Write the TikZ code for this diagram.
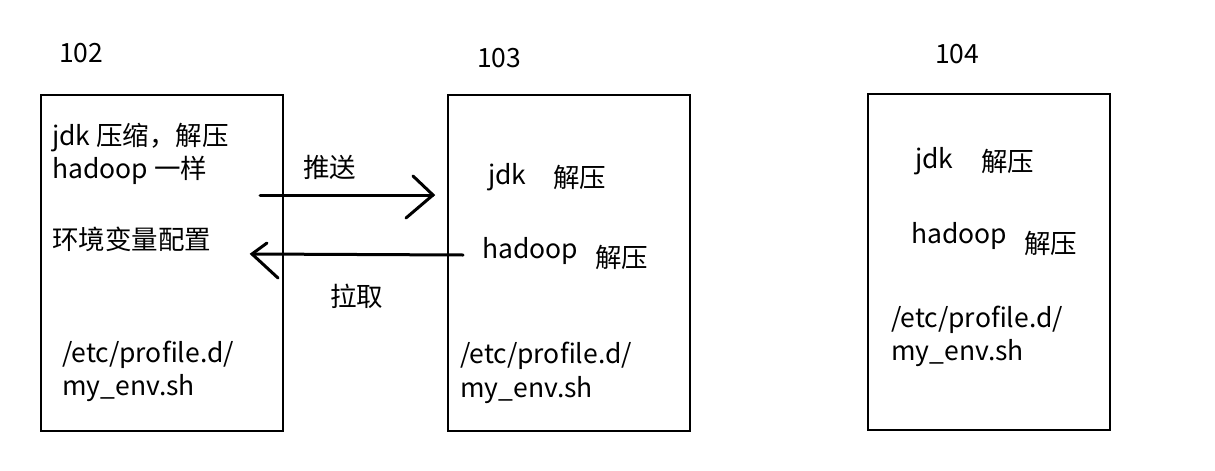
\documentclass[tikz,border=0pt]{standalone}
\usepackage{fontspec}
\setmainfont{Noto Sans CJK SC}
\begin{document}
\begin{tikzpicture}[x=1pt,y=-1pt,
  box/.style={draw=black,line width=1.3pt},
  txt/.style={anchor=base west,inner sep=0pt,font=\fontsize{26.5}{30}\selectfont},
  arr/.style={line width=3pt,line cap=round,line join=miter}]
\useasboundingbox (0,0) rectangle (1215,471);
% boxes
\draw[box] (41,95) rectangle (283,431) coordinate (b102);
\draw[box] (448,95) rectangle (690,431) coordinate (b103);
\draw[box] (868,94) rectangle (1110,430) coordinate (b104);
% titles
\node[txt] (t102) at (59,62) {102};
\node[txt] (t103) at (477,67) {103};
\node[txt] (t104) at (935,63) {104};
% box 102
\node[txt] (a1) at (52,145) {jdk 压缩，解压};
\node[txt] (a2) at (52,178) {hadoop 一样};
\node[txt] (a3) at (52,249) {环境变量配置};
\node[txt] (a4) at (62,362) {/etc/profile.d/};
\node[txt] (a5) at (62,395) {my\_env.sh};
% box 103
\node[txt] (b1) at (488,184) {jdk};
\node[txt] (b1c) at (553,187) {解压};
\node[txt] (b2) at (482,258) {hadoop};
\node[txt] (b2c) at (595,267) {解压};
\node[txt] (b3) at (460,363) {/etc/profile.d/};
\node[txt] (b4) at (460,397) {my\_env.sh};
% box 104
\node[txt] (c1) at (915,168) {jdk};
\node[txt] (c1c) at (981,171) {解压};
\node[txt] (c2) at (911,243) {hadoop};
\node[txt] (c2c) at (1024,253) {解压};
\node[txt] (c3) at (891,327) {/etc/profile.d/};
\node[txt] (c4) at (891,360) {my\_env.sh};
% arrows
\coordinate (ps) at (260,195);
\coordinate (pe) at (433,195);
\coordinate (ls) at (463,255);
\coordinate (le) at (252,254);
\draw[arr] (ps) -- (pe);
\draw[arr] (pe) ++(-20,-19) -- (pe) -- ++(-27,23);
\draw[arr] (ls) -- (le);
\draw[arr] (le) ++(15,-11) -- (le) -- ++(26,24);
\node[txt] (push) at (303,177) {推送};
\node[txt] (pull) at (330,306) {拉取};
\end{tikzpicture}
\end{document}
